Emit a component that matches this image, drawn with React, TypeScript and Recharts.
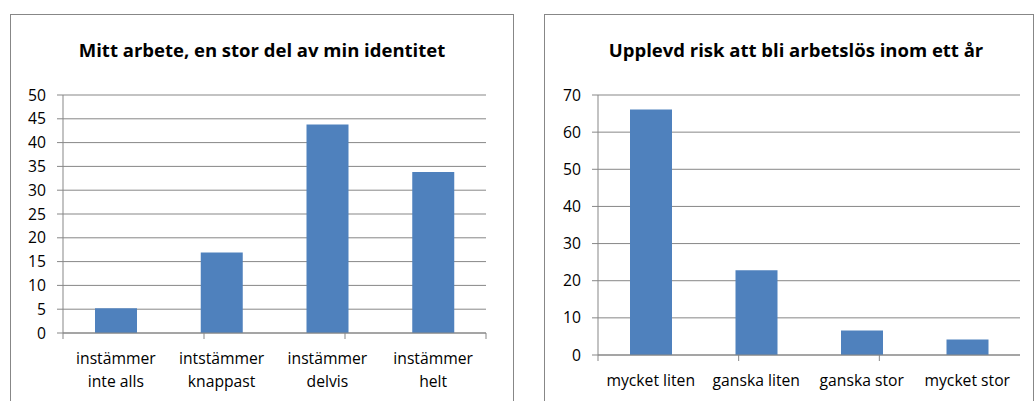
import { BarChart, Bar, XAxis, YAxis, CartesianGrid } from 'recharts'

const identityCategories = ['instämmer inte alls', 'intstämmer knappast', 'instämmer delvis', 'instämmer helt']
const identityValues = [5.2, 16.9, 43.8, 33.8]
const identityTicks = [0, 5, 10, 15, 20, 25, 30, 35, 40, 45, 50]

const riskCategories = ['mycket liten', 'ganska liten', 'ganska stor', 'mycket stor']
const riskValues = [66.1, 22.8, 6.6, 4.2]
const riskTicks = [0, 10, 20, 30, 40, 50, 60, 70]

// category edges, for the Excel-style tick marks between bars
const edgeTicks = [0, 1, 2, 3, 4]

const FONT = '"Open Sans", "Noto Sans", sans-serif'
const GRID = '#878787'
const BLUE = '#4F81BD'

function CategoryTick({ x, y, payload, split }: any) {
  const text = String(payload.value)
  const cut = text.indexOf(' ')
  const lines = split ? [text.slice(0, cut), text.slice(cut + 1)] : [text]
  return (
    <g>
      {lines.map((l, i) => (
        <text key={i} x={x} y={y + 19 + i * 23} textAnchor="middle" dominantBaseline="central" fill="#000" fontSize={15.7} fontFamily={FONT}>
          {l}
        </text>
      ))}
    </g>
  )
}

interface PanelProps {
  title: string
  titleCenter: number
  left: number
  width: number
  categories: string[]
  values: number[]
  ticks: number[]
  max: number
  yWidth: number
  marginRight: number
  plotHeight: number
  split: boolean
}

function Panel({ title, titleCenter, left, width, categories, values, ticks, max, yWidth, marginRight, plotHeight, split }: PanelProps) {
  const data = categories.map((name, i) => ({ name, value: values[i] }))
  const height = 387
  const top = 81
  const labelHeight = height - top - plotHeight - 6
  return (
    <>
      <div style={{ position: 'absolute', left, top: 14, width, height: 420, boxSizing: 'border-box', border: `1px solid ${GRID}`, background: '#fff' }} />
      <div style={{ position: 'absolute', left: titleCenter - 250, width: 500, top: 37, lineHeight: '26px', textAlign: 'center', fontFamily: FONT, fontWeight: 700, fontSize: 18.5, color: '#000' }}>
        {title}
      </div>
      <div style={{ position: 'absolute', left, top: 14 }}>
        <BarChart width={width} height={height} data={data} margin={{ top, right: marginRight, left: 0, bottom: 0 }}>
          <CartesianGrid vertical={false} stroke={GRID} xAxisId="b" />
          <XAxis xAxisId="a" type="number" domain={[0, 4]} ticks={edgeTicks} allowDataOverflow height={6} tickSize={6} tick={() => <g />} axisLine={{ stroke: GRID }} tickLine={{ stroke: GRID }} />
          <XAxis xAxisId="b" dataKey="name" interval={0} height={labelHeight} tickSize={0} tickMargin={0} axisLine={false} tickLine={false} tick={(p: any) => <CategoryTick {...p} split={split} />} />
          <YAxis domain={[0, max]} ticks={ticks} interval={0} width={yWidth} tickSize={6} tickMargin={11} axisLine={{ stroke: GRID }} tickLine={{ stroke: GRID }} tick={{ fill: '#000', fontSize: 15.7, fontFamily: FONT }} />
          <Bar xAxisId="b" dataKey="value" fill={BLUE} barSize={42} isAnimationActive={false} />
        </BarChart>
      </div>
    </>
  )
}

export default function App() {
  return (
    <div style={{ position: 'absolute', left: 0, top: 0, width: 1035, height: 401, overflow: 'hidden', background: '#fff' }}>
      <Panel title="Mitt arbete, en stor del av min identitet" titleCenter={262} left={10} width={504}
        categories={identityCategories} values={identityValues} ticks={identityTicks} max={50}
        yWidth={53} marginRight={28} plotHeight={238} split />
      <Panel title="Upplevd risk att bli arbetslös inom ett år" titleCenter={796} left={544} width={490}
        categories={riskCategories} values={riskValues} ticks={riskTicks} max={70}
        yWidth={54} marginRight={14} plotHeight={260} split={false} />
    </div>
  )
}
